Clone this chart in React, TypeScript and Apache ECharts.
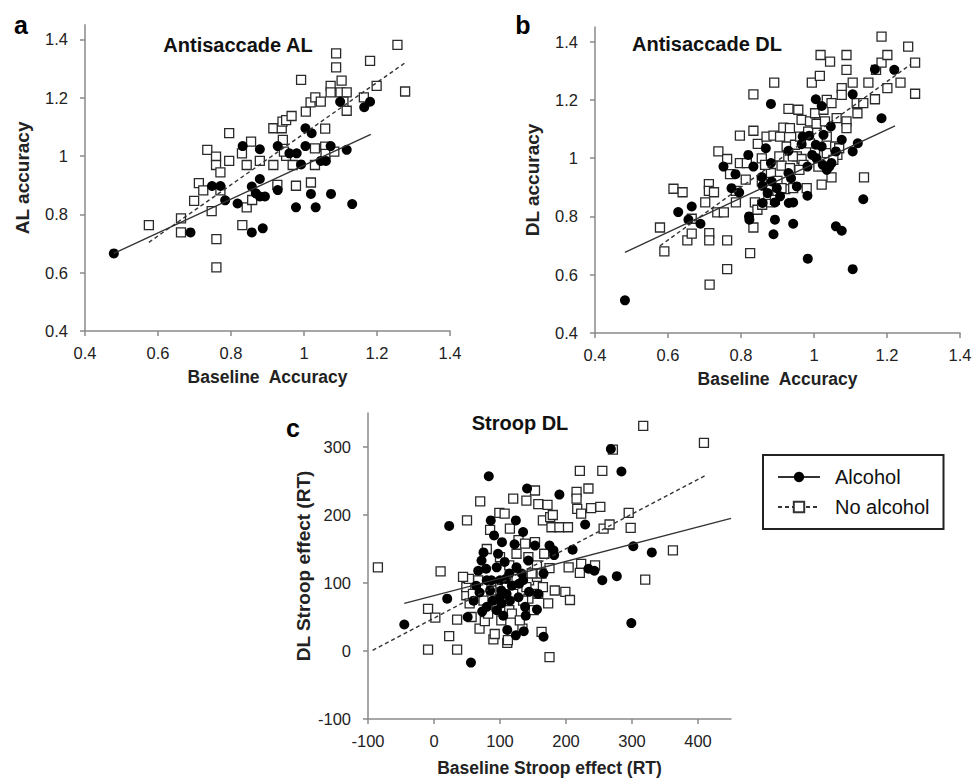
import React, { useEffect, useRef } from 'react';
import * as echarts from 'echarts';

// ---------- tick values ----------
const accTicks = [0.4, 0.6, 0.8, 1, 1.2, 1.4];
const stroopTicks = [-100, 0, 100, 200, 300, 400];

// ---------- panel a: Antisaccade AL ----------
const alNoAlcohol = [
  [0.575, 0.763], [0.663, 0.786], [0.663, 0.738], [0.699, 0.846], [0.712, 0.907], [0.724, 0.882],
  [0.735, 1.021], [0.747, 0.811], [0.759, 0.998], [0.759, 0.969], [0.771, 0.944], [0.771, 0.882],
  [0.76, 0.715], [0.76, 0.618], [0.795, 0.983], [0.795, 1.078], [0.83, 1.009], [0.831, 0.763],
  [0.843, 0.969], [0.843, 0.824], [0.855, 1.049], [0.879, 0.983], [0.858, 0.849], [0.916, 1.095],
  [0.916, 0.969], [0.927, 0.901], [0.939, 1.095], [0.941, 1.118], [0.951, 1.123], [0.966, 1.137],
  [0.942, 1.055], [0.951, 1.0], [0.969, 0.969], [0.978, 0.898], [0.992, 1.261], [1.005, 1.152],
  [1.018, 1.184], [1.031, 1.201], [1.046, 1.186], [1.019, 0.909], [1.03, 0.969], [1.03, 1.026],
  [1.058, 1.094], [1.058, 1.032], [1.059, 1.007], [1.073, 1.24], [1.073, 1.218], [1.088, 1.304],
  [1.088, 1.352], [1.103, 1.258], [1.1, 1.218], [1.117, 1.218], [1.117, 1.155], [1.108, 1.186],
  [1.164, 1.201], [1.181, 1.326], [1.199, 1.24], [1.256, 1.381], [1.277, 1.221], [1.083, 1.015],
  [0.945, 1.015],
];
const alAlcohol = [
  [0.479, 0.666], [0.689, 0.738], [0.748, 0.897], [0.771, 0.897], [0.784, 0.848], [0.818, 0.837],
  [0.832, 1.034], [0.857, 0.895], [0.857, 0.738], [0.879, 1.023], [0.879, 0.921], [0.868, 0.872],
  [0.879, 0.861], [0.893, 0.861], [0.887, 0.752], [0.928, 1.034], [0.928, 0.883], [0.96, 1.009],
  [0.98, 1.009], [0.978, 0.824], [0.992, 0.971], [1.004, 1.095], [1.021, 1.078], [1.004, 1.034],
  [1.019, 0.87], [1.032, 0.824], [1.046, 0.983], [1.06, 0.983], [1.073, 1.034], [1.074, 0.87],
  [1.099, 1.186], [1.117, 1.021], [1.132, 0.835], [1.165, 1.167], [1.181, 1.186],
];
const alFitAlcohol = [[0.479, 0.666], [1.183, 1.074]];
const alFitNoAlcohol = [[0.575, 0.704], [1.281, 1.323]];

// ---------- panel b: Antisaccade DL ----------
const dlNoAlcohol = [
  [0.578, 0.762], [0.59, 0.68], [0.615, 0.895], [0.64, 0.883], [0.653, 0.718], [0.665, 0.741],
  [0.665, 0.792], [0.702, 0.848], [0.712, 0.911], [0.712, 0.888], [0.713, 0.743], [0.713, 0.718],
  [0.714, 0.566], [0.726, 0.883], [0.738, 1.023], [0.735, 0.814], [0.753, 0.814], [0.762, 0.997],
  [0.762, 0.718], [0.762, 0.619], [0.77, 0.945], [0.786, 0.888], [0.786, 0.848], [0.797, 1.077],
  [0.797, 0.983], [0.813, 0.926], [0.825, 0.674], [0.834, 1.219], [0.834, 1.094], [0.834, 0.762],
  [0.838, 0.848], [0.845, 0.823], [0.846, 1.049], [0.857, 0.999], [0.857, 0.92], [0.87, 1.074],
  [0.879, 0.848], [0.882, 0.949], [0.889, 1.077], [0.891, 1.259], [0.9, 0.922], [0.907, 1.074],
  [0.911, 0.974], [0.916, 1.105], [0.921, 0.894], [0.925, 1.04], [0.93, 1.169], [0.934, 1.103],
  [0.943, 0.897], [0.948, 1.046], [0.953, 1.006], [0.957, 1.166], [0.962, 1.074], [0.966, 1.131],
  [0.966, 0.997], [0.971, 0.977], [0.98, 0.897], [0.984, 1.091], [0.989, 1.126], [0.994, 1.259],
  [1.003, 1.154], [1.007, 1.118], [1.016, 1.282], [1.018, 1.354], [1.021, 0.909], [1.026, 1.166],
  [1.035, 1.2], [1.03, 1.126], [1.035, 1.017], [1.044, 1.331], [1.048, 1.189], [1.048, 0.934],
  [1.058, 1.04], [1.062, 1.137], [1.064, 1.011], [1.076, 1.24], [1.076, 1.217], [1.089, 1.354],
  [1.089, 1.303], [1.089, 1.126], [1.089, 1.103], [1.106, 1.259], [1.117, 1.189], [1.119, 1.154],
  [1.135, 1.189], [1.137, 0.934], [1.149, 1.259], [1.167, 1.202], [1.17, 1.303], [1.185, 1.328],
  [1.185, 1.417], [1.201, 1.354], [1.201, 1.24], [1.237, 1.259], [1.258, 1.383], [1.277, 1.328],
  [1.277, 1.221], [0.866, 0.977], [0.875, 0.874], [0.893, 0.857], [0.905, 1.006], [0.934, 0.966],
  [0.942, 1.006], [0.96, 0.96], [1.003, 1.029], [1.012, 0.971], [1.035, 1.074], [1.053, 0.994],
  [1.069, 1.034], [0.989, 1.051], [0.911, 0.897], [0.858, 0.84], [0.816, 0.983],
];
const dlAlcohol = [
  [0.482, 0.512], [0.628, 0.815], [0.656, 0.789], [0.665, 0.834], [0.689, 0.775], [0.752, 0.971],
  [0.774, 0.897], [0.785, 0.945], [0.795, 0.882], [0.82, 1.011], [0.822, 0.8], [0.823, 0.789],
  [0.834, 0.971], [0.857, 0.935], [0.859, 0.905], [0.859, 0.846], [0.868, 1.034], [0.882, 1.186],
  [0.882, 0.983], [0.884, 0.92], [0.889, 0.739], [0.893, 0.789], [0.893, 0.848], [0.898, 0.897],
  [0.907, 0.869], [0.93, 1.025], [0.93, 0.949], [0.931, 0.846], [0.937, 0.931], [0.943, 0.848],
  [0.943, 0.775], [0.966, 1.048], [0.969, 1.074], [0.982, 0.971], [0.982, 0.871], [0.983, 0.655],
  [0.987, 1.077], [0.995, 1.011], [1.005, 1.202], [1.007, 0.999], [1.021, 1.04], [1.021, 1.179],
  [1.026, 1.08], [1.024, 0.977], [1.035, 0.96], [1.042, 0.971], [1.046, 1.109], [1.048, 0.983],
  [1.06, 1.023], [1.06, 0.766], [1.076, 0.751], [1.076, 1.063], [1.106, 1.023], [1.106, 0.619],
  [1.12, 1.051], [1.106, 1.219], [1.135, 0.859], [1.167, 1.305], [1.185, 1.137], [1.22, 1.303],
  [1.005, 1.046], [0.953, 0.903], [0.873, 0.88],
];
const dlFitAlcohol = [[0.482, 0.677], [1.222, 1.111]];
const dlFitNoAlcohol = [[0.578, 0.699], [1.263, 1.32]];

// ---------- panel c: Stroop DL ----------
const stroopNoAlcohol = [
  [-85, 123], [-9, 2], [-9, 62], [2, 49], [10, 117], [23, 22], [35, 2], [35, 46], [50, 192],
  [49, 82], [49, 94], [53, 106], [57, 50], [70, 220], [69, 33], [77, 44], [80, 150], [85, 178],
  [90, 17], [92, 25], [99, 203], [100, 138], [100, 99], [107, 202], [111, 12], [112, 16], [114, 60],
  [114, 126], [115, 180], [120, 224], [128, 163], [134, 33], [140, 221], [143, 138], [144, 104],
  [143, 77], [153, 236], [153, 160], [156, 126], [156, 109], [158, 216], [163, 28], [165, 192],
  [167, 143], [172, 215], [173, 70], [175, -9], [175, 122], [176, 197], [178, 182], [180, 200],
  [183, 89], [190, 182], [199, 87], [203, 182], [204, 123], [206, 75], [216, 234], [216, 224],
  [217, 209], [221, 265], [223, 202], [223, 128], [221, 115], [234, 239], [238, 210], [244, 126],
  [252, 212], [255, 265], [257, 180], [266, 186], [271, 296], [295, 203], [298, 181], [317, 331],
  [320, 105], [362, 148], [409, 306], [59, 84], [67, 104], [75, 74], [82, 55], [87, 89], [95, 65],
  [102, 45], [105, 79], [110, 94], [118, 55], [120, 84], [125, 109], [130, 45], [135, 74], [140, 94],
  [148, 114], [151, 60], [158, 84], [163, 114], [165, 94], [125, 143], [138, 158], [54, 70], [44, 109],
];
const stroopAlcohol = [
  [-45, 39], [20, 77], [23, 184], [51, 50], [56, -17], [60, 74], [69, 86], [67, 118], [72, 133],
  [75, 145], [73, 58], [79, 121], [83, 257], [86, 192], [87, 104], [89, 74], [91, 170], [95, 60],
  [97, 143], [100, 104], [102, 89], [103, 160], [105, 52], [107, 131], [109, 106], [111, 31],
  [114, 114], [118, 96], [122, 157], [124, 192], [124, 23], [125, 123], [129, 99], [135, 175],
  [136, 29], [138, 65], [139, 52], [141, 239], [143, 133], [144, 87], [153, 155], [156, 61],
  [158, 84], [166, 21], [166, 114], [175, 155], [181, 148], [182, 141], [190, 230], [210, 149],
  [229, 186], [234, 121], [243, 118], [255, 104], [268, 297], [277, 110], [284, 264], [299, 41],
  [302, 154], [330, 145], [451, 189], [64, 96], [80, 104], [85, 89], [95, 123], [100, 79],
  [115, 74], [128, 79], [110, 84], [133, 114], [80, 65], [102, 70], [135, 104],
];
const stroopFitAlcohol = [[-45, 70], [450, 195]];
const stroopFitNoAlcohol = [[-93, 1], [411, 258]];

// ---------- styling ----------
const FONT = '"Liberation Sans", Arial, Helvetica, sans-serif';
const AXIS_COLOR = '#8a8a8a';
const TEXT_COLOR = '#222';

function makeAxis(
  gridIndex: number, min: number, max: number, ticks: number[], name: string,
  nameGap: number, isX: boolean,
) {
  return {
    type: 'value',
    gridIndex,
    min,
    max,
    name,
    nameLocation: 'middle',
    nameGap,
    nameTextStyle: { fontFamily: FONT, fontWeight: 'bold', fontSize: isX ? 17.5 : 19, color: TEXT_COLOR },
    axisLine: { show: true, onZero: false, lineStyle: { color: AXIS_COLOR, width: 1.5 } },
    axisTick: { show: true, length: 5, customValues: ticks, lineStyle: { color: AXIS_COLOR, width: 1.5 } },
    axisLabel: {
      customValues: ticks,
      fontFamily: FONT,
      fontSize: 16.5,
      color: TEXT_COLOR,
      margin: isX ? 13 : 17,
      formatter: (v: number) => String(Math.round(v * 1000) / 1000),
    },
    splitLine: { show: false },
  };
}

function scatterSeries(name: string, data: number[][], idx: number, filled: boolean) {
  return {
    type: 'scatter',
    name,
    xAxisIndex: idx,
    yAxisIndex: idx,
    data,
    symbol: filled ? 'circle' : 'rect',
    symbolSize: filled ? 10 : 9,
    itemStyle: filled
      ? { color: '#000', borderWidth: 0, opacity: 1 }
      : { color: '#fff', borderColor: '#2a2a2a', borderWidth: 1.3, opacity: 1 },
    z: filled ? 3 : 2,
  };
}

function fitSeries(name: string, data: number[][], idx: number, dashed: boolean) {
  return {
    type: 'line',
    name,
    xAxisIndex: idx,
    yAxisIndex: idx,
    data,
    showSymbol: false,
    symbol: dashed ? 'rect' : 'circle',
    symbolSize: 9,
    lineStyle: { color: '#333', width: 1.4, type: dashed ? [4, 3] : 'solid' },
    itemStyle: dashed
      ? { color: '#fff', borderColor: '#333', borderWidth: 1.2 }
      : { color: '#000' },
    z: 4,
  };
}

export default function App() {
  const ref = useRef<HTMLDivElement>(null);
  useEffect(() => {
    if (!ref.current) return;
    const chart = echarts.init(ref.current, undefined, { renderer: 'svg' });
    const option = {
      animation: false,
      backgroundColor: '#fff',
      grid: [
        { left: 85, top: 24.7, width: 365, height: 306.3, outerBoundsMode: 'none', containLabel: false },
        { left: 595, top: 27, width: 365, height: 306, outerBoundsMode: 'none', containLabel: false },
        { left: 368, top: 413, width: 363, height: 306, outerBoundsMode: 'none', containLabel: false },
      ],
      xAxis: [
        makeAxis(0, 0.4, 1.4, accTicks, 'Baseline  Accuracy', 37, true),
        makeAxis(1, 0.4, 1.4, accTicks, 'Baseline  Accuracy', 37, true),
        makeAxis(2, -100, 450, stroopTicks, 'Baseline Stroop effect (RT)', 40, true),
      ],
      yAxis: [
        makeAxis(0, 0.4, 1.45, accTicks, 'AL accuracy', 53, false),
        makeAxis(1, 0.4, 1.45, accTicks, 'DL accuracy', 53, false),
        makeAxis(2, -100, 350, stroopTicks, 'DL Stroop effect (RT)', 55, false),
      ],
      legend: {
        data: ['Alcohol', 'No alcohol'],
        orient: 'vertical',
        left: 763,
        top: 455,
        padding: [12, 14, 12, 14],
        itemGap: 10,
        itemWidth: 42,
        itemHeight: 13,
        borderColor: '#222',
        borderWidth: 2,
        borderRadius: 0,
        selectedMode: false,
        textStyle: { fontFamily: FONT, fontSize: 20, color: '#111', padding: [0, 0, 0, 10] },
      },
      graphic: [
        { type: 'text', x: 21, y: 25, style: { text: 'a', font: `bold 25px ${FONT}`, fill: '#000', align: 'center', verticalAlign: 'middle' } },
        { type: 'text', x: 523, y: 25, style: { text: 'b', font: `bold 25px ${FONT}`, fill: '#000', align: 'center', verticalAlign: 'middle' } },
        { type: 'text', x: 293, y: 428, style: { text: 'c', font: `bold 25px ${FONT}`, fill: '#000', align: 'center', verticalAlign: 'middle' } },
        { type: 'text', x: 238, y: 45, style: { text: 'Antisaccade AL', font: `bold 20px ${FONT}`, fill: '#111', align: 'center', verticalAlign: 'middle' } },
        { type: 'text', x: 707, y: 44, style: { text: 'Antisaccade DL', font: `bold 20px ${FONT}`, fill: '#111', align: 'center', verticalAlign: 'middle' } },
        { type: 'text', x: 520, y: 423, style: { text: 'Stroop DL', font: `bold 20px ${FONT}`, fill: '#111', align: 'center', verticalAlign: 'middle' } },
      ],
      series: [
        fitSeries('Alcohol', stroopFitAlcohol, 2, false),
        fitSeries('No alcohol', stroopFitNoAlcohol, 2, true),
        scatterSeries('AL no alcohol', alNoAlcohol, 0, false),
        scatterSeries('AL alcohol', alAlcohol, 0, true),
        fitSeries('AL fit no alcohol', alFitNoAlcohol, 0, true),
        fitSeries('AL fit alcohol', alFitAlcohol, 0, false),
        scatterSeries('DL no alcohol', dlNoAlcohol, 1, false),
        scatterSeries('DL alcohol', dlAlcohol, 1, true),
        fitSeries('DL fit no alcohol', dlFitNoAlcohol, 1, true),
        fitSeries('DL fit alcohol', dlFitAlcohol, 1, false),
        scatterSeries('Stroop no alcohol', stroopNoAlcohol, 2, false),
        scatterSeries('Stroop alcohol', stroopAlcohol, 2, true),
      ],
    };
    chart.setOption(option as any);
    return () => chart.dispose();
  }, []);
  return (
    <div
      ref={ref}
      style={{ position: 'fixed', left: 0, top: 0, width: 974, height: 780, background: '#fff' }}
    />
  );
}
